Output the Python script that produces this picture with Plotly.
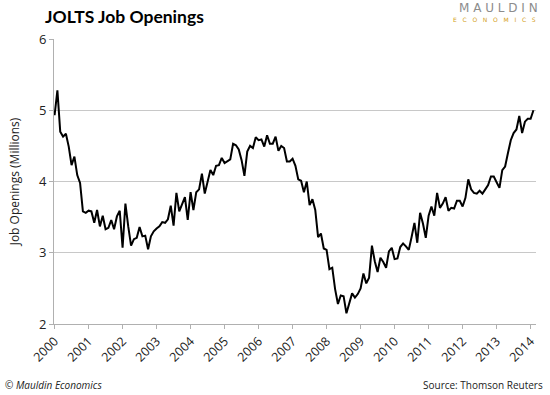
import plotly.graph_objects as go

# Monthly JOLTS job openings (millions)
openings = [
    4.93, 5.28, 4.70, 4.63, 4.67, 4.49, 4.23, 4.35, 4.09, 3.98, 3.58, 3.56,
    3.59, 3.58, 3.42, 3.60, 3.37, 3.52, 3.33, 3.35, 3.46, 3.33, 3.51, 3.59,
    3.07, 3.69, 3.37, 3.10, 3.19, 3.21, 3.36, 3.23, 3.24, 3.05, 3.23, 3.30,
    3.34, 3.37, 3.43, 3.42, 3.47, 3.66, 3.38, 3.84, 3.58, 3.68, 3.78, 3.46,
    3.85, 3.60, 3.85, 3.89, 4.11, 3.83, 4.02, 4.16, 4.09, 4.22, 4.23, 4.33,
    4.26, 4.29, 4.31, 4.53, 4.51, 4.45, 4.30, 4.08, 4.42, 4.50, 4.47, 4.62,
    4.58, 4.59, 4.49, 4.65, 4.53, 4.53, 4.63, 4.43, 4.50, 4.47, 4.28, 4.28,
    4.32, 4.22, 4.03, 4.01, 3.85, 4.00, 3.67, 3.75, 3.60, 3.22, 3.27, 3.06,
    3.04, 2.77, 2.79, 2.49, 2.28, 2.40, 2.39, 2.15, 2.29, 2.43, 2.37, 2.42,
    2.50, 2.71, 2.57, 2.65, 3.10, 2.88, 2.73, 2.93, 2.87, 2.79, 3.02, 3.07,
    2.91, 2.92, 3.08, 3.13, 3.09, 3.04, 3.22, 3.42, 3.14, 3.56, 3.41, 3.21,
    3.52, 3.65, 3.52, 3.84, 3.63, 3.69, 3.78, 3.59, 3.63, 3.62, 3.73, 3.73,
    3.65, 3.77, 4.03, 3.89, 3.84, 3.83, 3.87, 3.83, 3.89, 3.95, 4.07, 4.07,
    3.99, 3.91, 4.16, 4.21, 4.40, 4.58, 4.68, 4.73, 4.92, 4.68, 4.84, 4.88,
    4.88, 5.00,
]
month_index = list(range(len(openings)))
year_labels = [str(y) for y in range(2000, 2015)]
year_ticks = [12 * k for k in range(len(year_labels))]
y_ticks = [2, 3, 4, 5, 6]

W, H = 550, 395
L, R, T, B = 54, 12, 39, 71
pw, ph = W - L - R, H - T - B


def px(x):
    return (x - L) / pw


def py(y):
    return (H - B - y) / ph


NB = "\u00a0"

fig = go.Figure()
fig.add_trace(go.Scatter(
    x=month_index, y=openings, mode="lines",
    line=dict(color="black", width=2), hoverinfo="skip", showlegend=False,
))

fig.update_layout(
    width=W, height=H,
    margin=dict(l=L, r=R, t=T, b=B),
    paper_bgcolor="white", plot_bgcolor="white",
    font=dict(family="Open Sans", color="#222222"),
    showlegend=False,
    xaxis=dict(
        range=[-0.2, 169.9], tickmode="array", tickvals=year_ticks,
        ticktext=year_labels, tickangle=-45, ticks="outside", ticklen=4,
        tickcolor="#b0b0b0", showline=True, linecolor="#b0b0b0", linewidth=1,
        showgrid=False, zeroline=False,
        tickfont=dict(size=12.5, family="Open Sans", color="#222"),
    ),
    yaxis=dict(
        range=[2, 6], tickmode="array", tickvals=y_ticks, ticks="outside",
        ticklen=4, tickcolor="#b0b0b0", showline=True, linecolor="#b0b0b0",
        linewidth=1, showgrid=True, gridcolor="#c8c8c8", gridwidth=1,
        zeroline=False, tickfont=dict(size=13, family="Open Sans", color="#222"),
        title=dict(text="Job Openings (Millions)",
                   font=dict(size=12, family="Open Sans", color="#222"), standoff=16),
    ),
    annotations=[
        dict(text="<b>JOLTS Job Openings</b>", x=px(43), y=py(17), xref="paper", yref="paper",
             xanchor="left", yanchor="middle", showarrow=False,
             font=dict(size=17.5, family="Lato", color="black")),
        dict(text=NB.join("MAULDIN"), x=px(542), y=py(7.5), xref="paper", yref="paper",
             xanchor="right", yanchor="middle", showarrow=False,
             font=dict(size=12, family="DejaVu Sans", color="#8c8c8c")),
        dict(text=(NB * 3).join("ECONOMICS"), x=px(540), y=py(19), xref="paper", yref="paper",
             xanchor="right", yanchor="middle", showarrow=False,
             font=dict(size=6, family="DejaVu Sans", color="#d4a017")),
        dict(text="<i>© Mauldin Economics</i>", x=px(3), y=py(385), xref="paper", yref="paper",
             xanchor="left", yanchor="middle", showarrow=False,
             font=dict(size=10, family="Open Sans", color="#222")),
        dict(text="Source: Thomson Reuters", x=px(547), y=py(385), xref="paper", yref="paper",
             xanchor="right", yanchor="middle", showarrow=False,
             font=dict(size=10, family="Open Sans", color="#222")),
    ],
)

fig.write_html(
    "out.html",
    config={"displayModeBar": False},
    post_script="document.body.style.margin='0';document.body.style.overflow='hidden';",
)
